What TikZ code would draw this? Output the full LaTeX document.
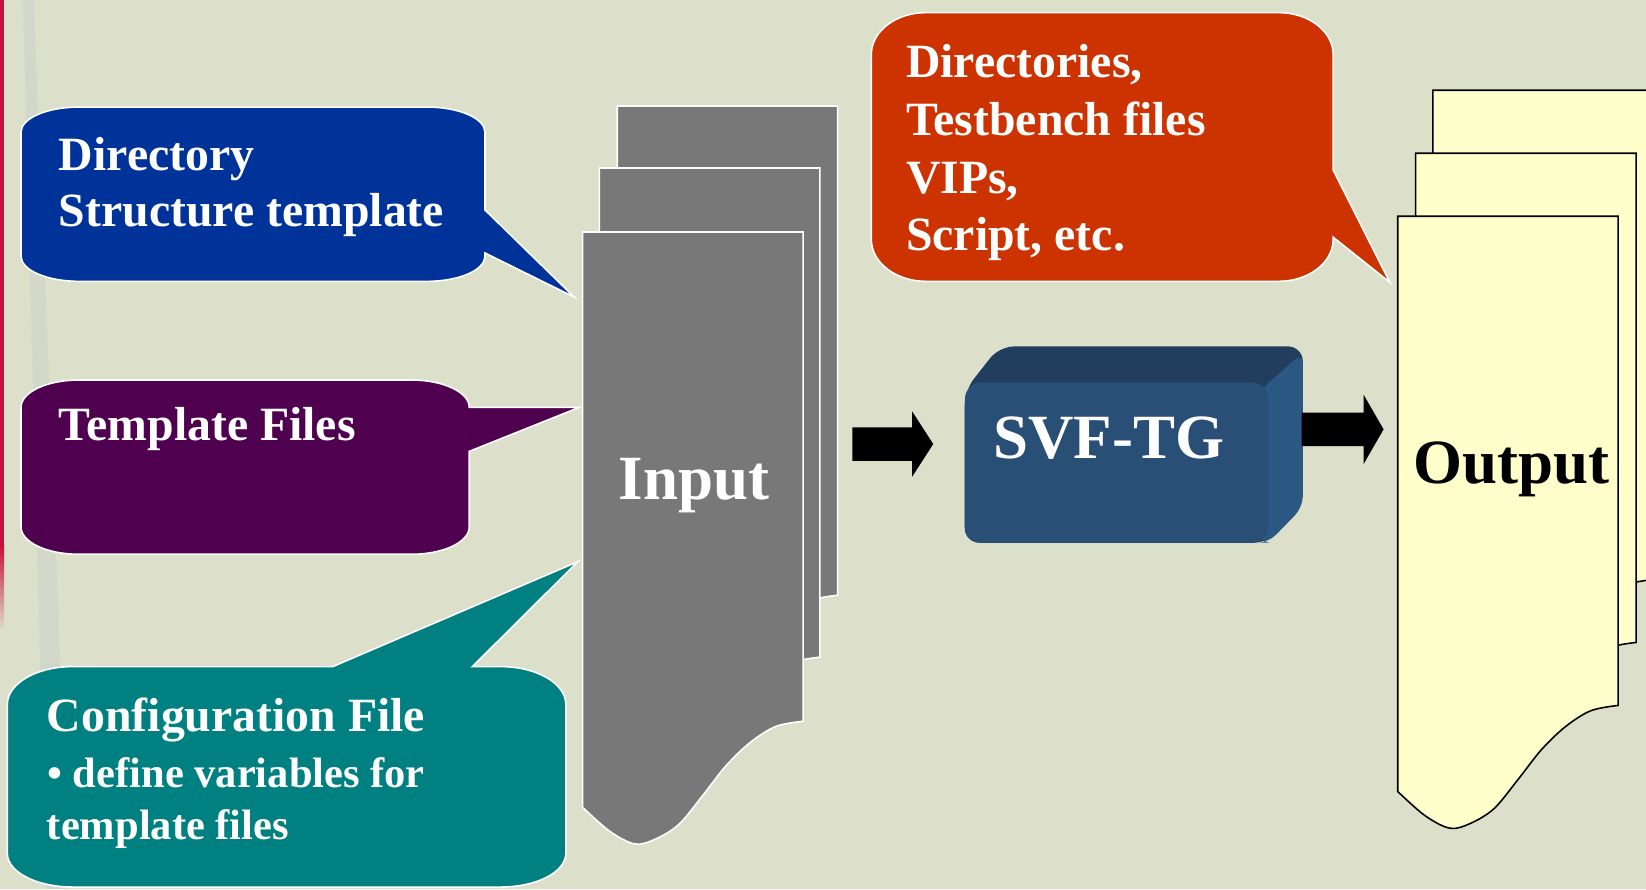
\documentclass[tikz,border=0pt]{standalone}
\usepackage{fontspec}
\setmainfont{Liberation Serif}
\definecolor{bg}{HTML}{DCDFC9}
\definecolor{bgstripe}{HTML}{C4CEC9}
\definecolor{crimson}{HTML}{C8103F}
\definecolor{cblue}{HTML}{003399}
\definecolor{cpurple}{HTML}{4F004F}
\definecolor{cteal}{HTML}{008080}
\definecolor{cred}{HTML}{CC3300}
\definecolor{pagegray}{HTML}{787878}
\definecolor{pageyellow}{HTML}{FFFFCC}
\definecolor{svffront}{HTML}{294F77}
\definecolor{svftop}{HTML}{213E5F}
\definecolor{svfside}{HTML}{2C5884}
\begin{document}
\begin{tikzpicture}[x=1pt,y=-1pt,
  bubble/.style={draw=white, line width=1.5pt},
  bubtext/.style={anchor=base west, inner sep=0pt, text=white, font=\fontsize{45.5}{54}\selectfont\bfseries},
  subtext/.style={anchor=base west, inner sep=0pt, text=white, font=\fontsize{40.5}{48}\selectfont\bfseries},
  bigtext/.style={anchor=base west, inner sep=0pt, font=\fontsize{60}{70}\selectfont\bfseries},
  blockarrow/.style={fill=black},
  docpage/.pic={\path[pic actions] (0,0) -- (210,0) -- (210,466)
     -- plot[smooth,tension=0.55] coordinates {(210,466) (184,471) (160,486) (137,508) (115,536) (92,564) (70,578) (50,583) (26,571) (0,548)}
     -- cycle;}
]
% background
\path[use as bounding box, fill=bg] (0,0) rectangle (1568,847);
\fill[bgstripe, opacity=0.45] (22,0) -- (32,0) -- (66,847) -- (44,847) -- cycle;
\fill[crimson] (0,0) rectangle (4,520);
\shade[top color=crimson, bottom color=bg] (0,520) rectangle (4,600);

% input pages
\pic[fill=pagegray, draw=white, line width=1.5pt] at (588,101) {docpage};
\pic[fill=pagegray, draw=white, line width=1.5pt] at (571,160) {docpage};
\pic[fill=pagegray, draw=white, line width=1.5pt] at (555,221) {docpage};
\node[bigtext, text=white] (input) at (589,476) {Input};

% output pages
\pic[fill=pageyellow, draw=black, line width=1.5pt] at (1365,86) {docpage};
\pic[fill=pageyellow, draw=black, line width=1.5pt] at (1348.5,146) {docpage};
\pic[fill=pageyellow, draw=black, line width=1.5pt] at (1331.5,206) {docpage};
\node[bigtext, text=black] (output) at (1346,461) {Output};

% blue bubble
\path[bubble, fill=cblue] (20,126) arc[start angle=180, end angle=270, x radius=55, y radius=24]
  -- (407,102) arc[start angle=270, end angle=360, x radius=55, y radius=24]
  -- (462,200) -- (547,283) -- (462,241) -- (462,244)
  arc[start angle=0, end angle=90, x radius=55, y radius=24]
  -- (75,268) arc[start angle=90, end angle=180, x radius=55, y radius=24] -- cycle;
\node[bubtext] (dir1) at (56,162) {Directory};
\node[bubtext] (dir2) at (56,216) {Structure template};

% purple bubble
\path[bubble, fill=cpurple] (20,388) arc[start angle=180, end angle=270, x radius=55, y radius=26]
  -- (392,362) arc[start angle=270, end angle=360, x radius=55, y radius=26]
  -- (552,388) -- (447,430) -- (447,502)
  arc[start angle=0, end angle=90, x radius=55, y radius=26]
  -- (75,528) arc[start angle=90, end angle=180, x radius=55, y radius=26] -- cycle;
\node[bubtext] (tmpl) at (56,420) {Template Files};

% teal bubble
\path[bubble, fill=cteal] (7,671) arc[start angle=180, end angle=270, x radius=62, y radius=36]
  -- (317,635) -- (550.5,535) -- (450,635) -- (477,635)
  arc[start angle=270, end angle=360, x radius=62, y radius=36]
  -- (539,813) arc[start angle=0, end angle=90, x radius=62, y radius=32]
  -- (69,845) arc[start angle=90, end angle=180, x radius=62, y radius=32] -- cycle;
\node[bubtext] (conf1) at (44.5,697) {Configuration File};
\node[subtext] (conf2) at (45,750) {• define variables for};
\node[subtext] (conf3) at (44.5,800) {template files};

% red bubble
\path[bubble, fill=cred] (830,52) arc[start angle=180, end angle=270, x radius=52, y radius=40]
  -- (1218,12) arc[start angle=270, end angle=360, x radius=52, y radius=40]
  -- (1270,162) -- (1324,269) -- (1270,226) -- (1270,228)
  arc[start angle=0, end angle=90, x radius=52, y radius=40]
  -- (882,268) arc[start angle=90, end angle=180, x radius=52, y radius=40] -- cycle;
\node[bubtext] (out1) at (863,74) {Directories,};
\node[bubtext] (out2) at (863,129) {Testbench files};
\node[bubtext] (out3) at (863,184) {VIPs,};
\node[bubtext] (out4) at (863,239) {Script, etc.};

% SVF-TG box
\fill[svftop, rounded corners=14] (919,372) -- (952,330) -- (1241,330) -- (1241,483) -- (1208,517) -- (919,517) -- cycle;
\fill[svfside, rounded corners=10] (1200,372) -- (1241,336) -- (1241,483) -- (1208,517) -- (1200,517) -- cycle;
\node[fill=svffront, rounded corners=16, minimum width=289pt, minimum height=153pt, anchor=north west, inner sep=0pt] (svf) at (919,364) {};
\node[bigtext, text=white] (svftext) at (946,437) {SVF-TG};

% block arrows
\coordinate (a1) at (812,423);
\coordinate (a2) at (1240,409);
\fill[blockarrow] (a1) ++(0,-16) -- ++(57,0) -- ++(0,-15) -- (889,423) -- (869,454) -- (869,439) -- (812,439) -- cycle;
\fill[blockarrow] (a2) ++(0,-16) -- ++(59,0) -- ++(0,-17) -- (1318,409) -- (1299,442) -- (1299,425) -- (1240,425) -- cycle;
\end{tikzpicture}
\end{document}
